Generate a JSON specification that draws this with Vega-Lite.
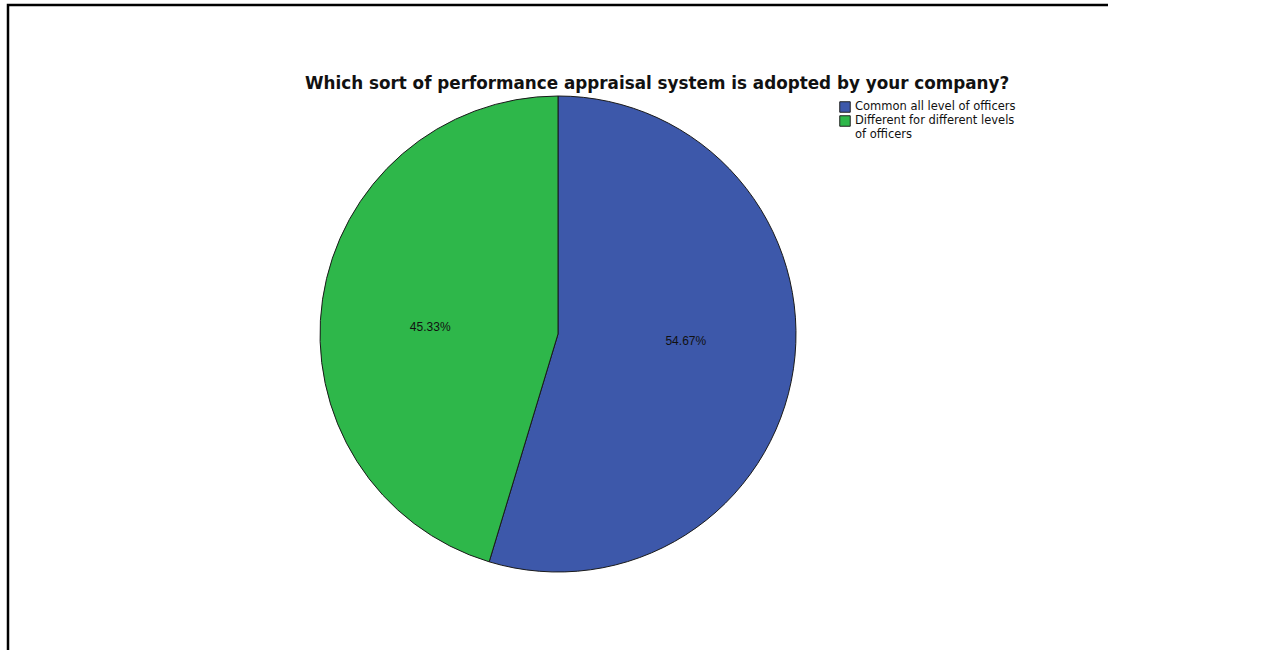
{
  "$schema": "https://vega.github.io/schema/vega-lite/v6.json",
  "autosize": "none",
  "padding": {"left": 8, "top": 5, "right": 0, "bottom": 0},
  "width": 1100,
  "height": 658,
  "background": "white",
  "view": {"stroke": "black", "strokeWidth": 2.5, "strokeDash": [1100, 1758, 658, 1]},
  "config": {
    "font": "Liberation Sans"
  },
  "title": {
    "text": "Which sort of performance appraisal system is adopted by your company?",
    "anchor": "start",
    "dx": 297,
    "dy": 101,
    "baseline": "alphabetic",
    "offset": 0,
    "fontSize": 16.8,
    "fontWeight": "bold",
    "font": "DejaVu Sans",
    "color": "#111111"
  },
  "data": {
    "values": [
      {"category": "Common all level of officers", "share": 0.5467, "order": 1},
      {"category": "Different for different levels of officers", "share": 0.4533, "order": 2}
    ]
  },
  "encoding": {
    "theta": {"field": "share", "type": "quantitative", "stack": true},
    "order": {"field": "order", "type": "ordinal"}
  },
  "layer": [
    {
      "mark": {"type": "arc", "outerRadius": 238, "stroke": "#1a1a1a", "strokeWidth": 1},
      "encoding": {
        "color": {
          "field": "category",
          "type": "nominal",
          "scale": {
            "domain": ["Common all level of officers", "Different for different levels of officers"],
            "range": ["#3D58AA", "#2EB74A"]
          },
          "legend": {
            "title": null,
            "orient": "none",
            "legendX": 831,
            "legendY": 96,
            "symbolType": "square",
            "symbolSize": 110,
            "symbolStrokeColor": "#222222",
            "symbolStrokeWidth": 1,
            "labelFontSize": 11.5,
            "labelFont": "DejaVu Sans",
            "labelColor": "#111111",
            "labelBaseline": "middle",
            "labelLimit": 400,
            "rowPadding": -3,
            "labelOffset": 4,
            "labelExpr": "datum.label == 'Different for different levels of officers' ? ['Different for different levels', 'of officers'] : datum.label"
          }
        }
      }
    },
    {
      "mark": {"type": "text", "radius": 128, "thetaOffset": -0.09, "fontSize": 12, "font": "Liberation Sans", "color": "#111111", "baseline": "middle"},
      "encoding": {
        "text": {"field": "share", "type": "quantitative", "format": ".2%"}
      }
    }
  ]
}
